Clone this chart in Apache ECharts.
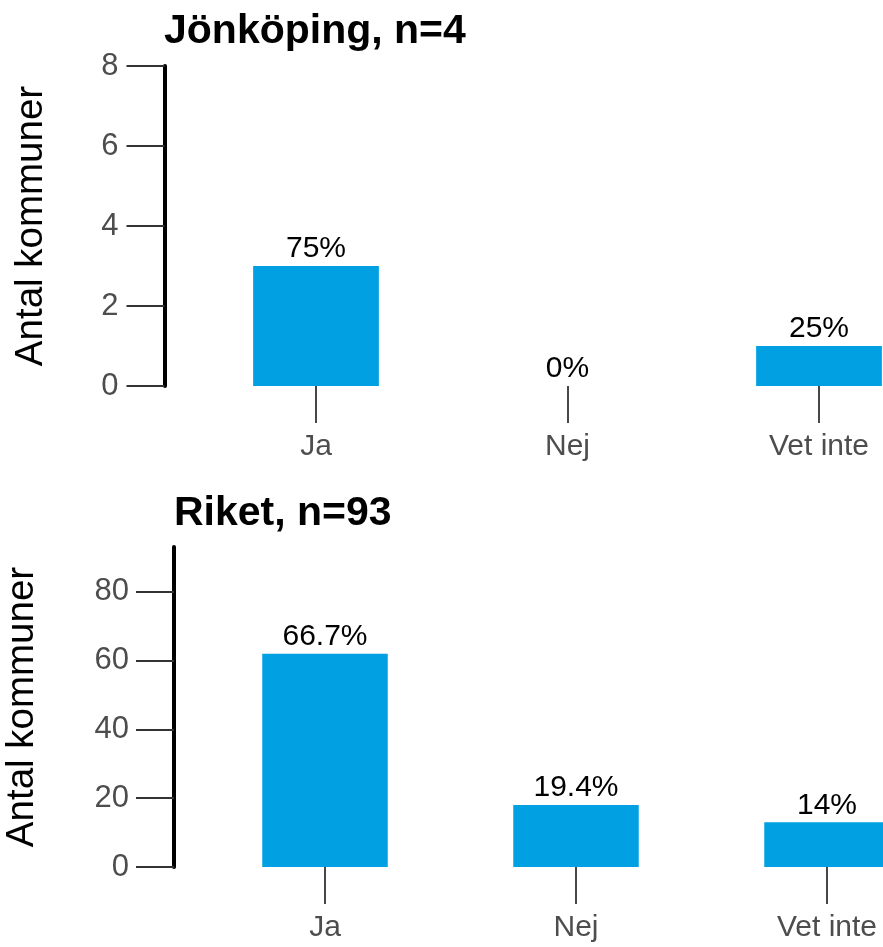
<!DOCTYPE html>
<html>
<head>
<meta charset="utf-8">
<script src="https://cdn.jsdelivr.net/npm/echarts@6/dist/echarts.min.js"></script>
<style>
  html, body { margin: 0; padding: 0; background: #fff; }
  #chart { width: 883px; height: 947px; }
</style>
</head>
<body>
<div id="chart"></div>
<script>
// ---- Data ----
const categories = ["Ja", "Nej", "Vet inte"];

const titleTop = "Jönköping, n=4";
const countsTop = [3, 0, 1];
const pctLabelsTop = ["75%", "0%", "25%"];
const yTicksTop = [0, 2, 4, 6, 8];

const titleBottom = "Riket, n=93";
const countsBottom = [62, 18, 13];
const pctLabelsBottom = ["66.7%", "19.4%", "14%"];
const yTicksBottom = [0, 20, 40, 60, 80];
const yMaxBottom = 93;

// ---- Styles ----
const FONT = "Liberation Sans, Arial, sans-serif";
const BAR_COLOR = "#00a0e3";

function yAxisDef(gridIndex, max, ticks, offset, labelMargin, nameGap) {
  return {
    type: "value",
    gridIndex: gridIndex,
    min: 0,
    max: max,
    interval: ticks[1] - ticks[0],
    offset: offset,
    name: "Antal kommuner",
    nameLocation: "middle",
    nameGap: nameGap,
    nameMoveOverlap: false,
    nameTextStyle: { fontFamily: FONT, fontSize: 38.5, color: "#000" },
    axisLine: { show: true, lineStyle: { color: "#000", width: 4 } },
    axisTick: { show: true, length: 38, customValues: ticks, lineStyle: { color: "#333", width: 1.8 } },
    axisLabel: { show: true, margin: labelMargin, customValues: ticks, fontFamily: FONT, fontSize: 31, color: "#4d4d4d" },
    splitLine: { show: false }
  };
}

function xAxisDef(gridIndex) {
  return {
    type: "category",
    gridIndex: gridIndex,
    data: categories,
    axisLine: { show: false },
    axisTick: { show: true, alignWithLabel: true, length: 37, lineStyle: { color: "#333", width: 1.8 } },
    axisLabel: { margin: 46, fontFamily: FONT, fontSize: 30, color: "#4d4d4d" }
  };
}

function seriesDef(idx, counts, labels) {
  return {
    type: "bar",
    xAxisIndex: idx,
    yAxisIndex: idx,
    data: counts,
    barWidth: "50%",
    itemStyle: { color: BAR_COLOR },
    silent: true,
    label: {
      show: true,
      position: "top",
      distance: 2,
      fontFamily: FONT,
      fontSize: 30,
      color: "#000",
      formatter: function (p) { return labels[p.dataIndex]; }
    }
  };
}

const chart = echarts.init(document.getElementById("chart"), null, { renderer: "canvas" });
chart.setOption({
  animation: false,
  backgroundColor: "#fff",
  title: [
    { text: titleTop, left: 164, top: 11, padding: 0,
      textStyle: { fontFamily: FONT, fontSize: 41, fontWeight: "bold", color: "#000" } },
    { text: titleBottom, left: 174, top: 493, padding: 0,
      textStyle: { fontFamily: FONT, fontSize: 41, fontWeight: "bold", color: "#000" } }
  ],
  grid: [
    { left: 190.25, top: 66, right: -61.75, height: 320, outerBoundsMode: "none" },
    { left: 199.5, top: 547, right: -69.5, height: 320, outerBoundsMode: "none" }
  ],
  xAxis: [xAxisDef(0), xAxisDef(1)],
  yAxis: [
    yAxisDef(0, 8, yTicksTop, 25.75, 46, 114),
    yAxisDef(1, yMaxBottom, yTicksBottom, 25.5, 45, 132)
  ],
  series: [
    seriesDef(0, countsTop, pctLabelsTop),
    seriesDef(1, countsBottom, pctLabelsBottom)
  ]
});
</script>
</body>
</html>
